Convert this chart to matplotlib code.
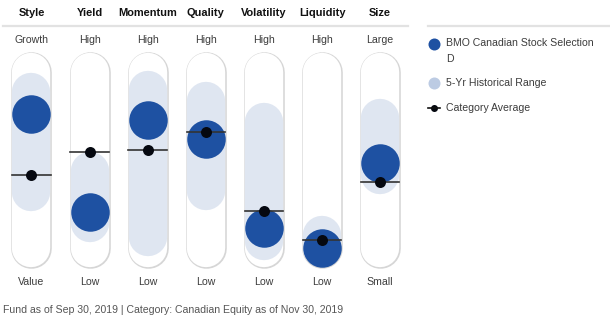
import matplotlib
matplotlib.use('Agg')
import matplotlib.pyplot as plt
from matplotlib import font_manager

# scores: 0 = bottom of track (Low/Value/Small), 100 = top (High/Growth/Large)
factors = ['Style', 'Yield', 'Momentum', 'Quality', 'Volatility', 'Liquidity', 'Size']
high_labels = ['Growth', 'High', 'High', 'High', 'High', 'High', 'Large']
low_labels = ['Value', 'Low', 'Low', 'Low', 'Low', 'Low', 'Small']
fund = [76.4, 20.9, 72.9, 62.1, 11.6, 0.2, 48.5]
category_avg = [41.6, 54.7, 56.0, 65.9, 21.4, 4.7, 37.8]
range_low = [31.9, 14.5, 6.7, 32.4, 4.4, 0.6, 41.4]
range_high = [88.7, 43.8, 90.2, 83.6, 71.9, 7.8, 74.1]

FUND_NAME = ['BMO Canadian Stock Selection', 'D']
FOOTER = 'Fund as of Sep 30, 2019 | Category: Canadian Equity as of Nov 30, 2019'

BLUE = '#1e51a2'
RANGE = '#dfe6f1'
RANGE_LEG = '#bccbe3'
OUTLINE = '#d6d6d6'
TXT = '#3c3c3c'

names = {f.name for f in font_manager.fontManager.ttflist}
FONT = ['Liberation Sans Narrow', 'DejaVu Sans'] if 'Liberation Sans Narrow' in names else ['Liberation Sans', 'DejaVu Sans']
plt.rcParams['font.family'] = FONT
FS = 7.6

W, H = 610, 323
PX = 72 / 100  # points per pixel at dpi 100

fig = plt.figure(figsize=(W / 100, H / 100), dpi=100)
ax = fig.add_axes([0, 0, 1, 1])
col = 58.1
x0 = -31.5 / col
ax.set_xlim(x0, x0 + W / col)
# track: score 0 at y=248.3px, 100 at y=72.3px (from top)
spp = 1.76
ax.set_ylim((248.3 - H) / spp, 248.3 / spp)
ax.axis('off')

track_w = 39
for i in range(len(factors)):
    ax.plot([i, i], [0, 100], color=OUTLINE, lw=(track_w + 1.6) * PX,
            solid_capstyle='round', zorder=1)
    ax.plot([i, i], [0, 100], color='white', lw=(track_w - 0.6) * PX,
            solid_capstyle='round', zorder=2)
    ax.plot([i, i], [range_low[i], range_high[i]], color=RANGE,
            lw=(track_w - 0.6) * PX, solid_capstyle='round', zorder=3)

xs = list(range(len(factors)))
ax.scatter(xs, fund, s=(38.5 * PX) ** 2, color=BLUE, zorder=4, linewidths=0)
half = 19.3 / col
for i in xs:
    ax.plot([i - half, i + half], [category_avg[i]] * 2, color='#333333',
            lw=1.2, zorder=5)
ax.scatter(xs, category_avg, s=(11 * PX) ** 2, color='#050810', zorder=6,
           linewidths=0)

tr = ax.get_xaxis_transform()
for i in xs:
    ax.text(i, 1 - 13 / H, factors[i], transform=tr, ha='center', va='center',
            fontsize=7.9, fontweight='bold', color='#111111')
    ax.text(i, 1 - 40 / H, high_labels[i], transform=tr, ha='center',
            va='center', fontsize=FS, color=TXT)
    ax.text(i, 1 - 282 / H, low_labels[i], transform=tr, ha='center',
            va='center', fontsize=FS, color=TXT)

# overlay in pixel coords for header rules and legend
lax = fig.add_axes([0, 0, 1, 1], facecolor='none')
lax.set_xlim(0, W)
lax.set_ylim(H, 0)
lax.axis('off')
lax.plot([3, 408], [25.5, 25.5], color='#e2e2e2', lw=1.6, zorder=1)
lax.plot([428, 610], [25.5, 25.5], color='#e2e2e2', lw=1.6, zorder=1)

lax.scatter([434], [43.5], s=(12 * PX) ** 2, color=BLUE, linewidths=0)
lax.text(446, 43.5, FUND_NAME[0], ha='left', va='center', fontsize=FS, color=TXT)
lax.text(446, 59.5, FUND_NAME[1], ha='left', va='center', fontsize=FS, color=TXT)
lax.scatter([434], [83], s=(12 * PX) ** 2, color=RANGE_LEG, linewidths=0)
lax.text(446, 83, '5-Yr Historical Range', ha='left', va='center',
         fontsize=FS, color=TXT)
lax.plot([428, 440], [108, 108], color='#111111', lw=1.2)
lax.scatter([434], [108], s=(7 * PX) ** 2, color='#050810', linewidths=0)
lax.text(446, 108, 'Category Average', ha='left', va='center', fontsize=FS,
         color=TXT)

lax.text(3, 310, FOOTER, ha='left', va='center', fontsize=FS, color='#555555')

fig.savefig('out.png', dpi=100)
